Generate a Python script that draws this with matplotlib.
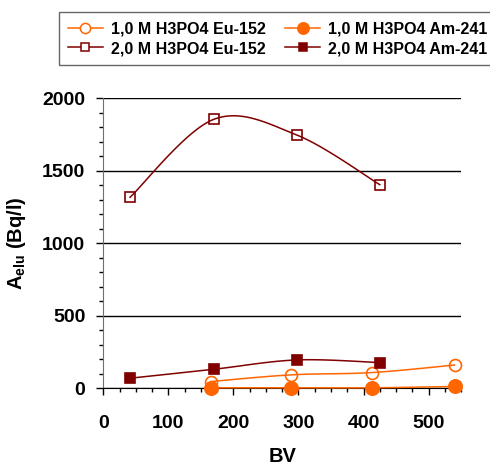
import numpy as np
import matplotlib
matplotlib.use("Agg")
import matplotlib.pyplot as plt
from matplotlib.ticker import MultipleLocator

plt.rcParams['font.family'] = ['Liberation Sans', 'DejaVu Sans']
plt.rcParams['font.weight'] = 'bold'
plt.rcParams['mathtext.fontset'] = 'custom'
plt.rcParams['mathtext.rm'] = 'Liberation Sans:bold'
plt.rcParams['mathtext.bf'] = 'Liberation Sans:bold'

# Data
x_10 = [165, 288, 413, 540]
eu_10 = [46, 92, 108, 160]
am_10 = [3, 3, 3, 12]
x_20 = [41, 170, 297, 425]
eu_20 = [1317, 1855, 1747, 1404]
am_20 = [69, 131, 195, 177]

labels = ["1,0 M H3PO4 Eu-152", "1,0 M H3PO4 Am-241",
          "2,0 M H3PO4 Eu-152", "2,0 M H3PO4 Am-241"]
orange = "#FF6600"
darkred = "#800000"


def smooth(xs, ys, n=40):
    """Excel-like smoothed line (Bezier with 1/6 tension)."""
    p = np.column_stack([xs, ys]).astype(float)
    pts = np.vstack([p[0], p, p[-1]])
    out = []
    t = np.linspace(0, 1, n)[:, None]
    for i in range(1, len(pts) - 2):
        p0, p3 = pts[i], pts[i + 1]
        c1 = p0 + (pts[i + 1] - pts[i - 1]) / 6
        c2 = p3 - (pts[i + 2] - pts[i]) / 6
        seg = ((1 - t) ** 3) * p0 + 3 * ((1 - t) ** 2) * t * c1 + 3 * (1 - t) * t ** 2 * c2 + t ** 3 * p3
        out.append(seg)
    s = np.vstack(out)
    return s[:, 0], s[:, 1]


fig = plt.figure(figsize=(4.9, 4.7), dpi=100)
ax = fig.add_axes([0.211, 0.174, 0.73, 0.617])

series = [
    (x_10, eu_10, orange, 'o', 'none', 8.6, labels[0]),
    (x_10, am_10, orange, 'o', orange, 9.6, labels[1]),
    (x_20, eu_20, darkred, 's', 'none', 7.0, labels[2]),
    (x_20, am_20, darkred, 's', darkred, 7.0, labels[3]),
]
handles = []
for xs, ys, c, m, fc, ms, lab in series:
    sx, sy = smooth(xs, ys)
    ax.plot(sx, sy, color=c, lw=1.1, zorder=3, clip_on=False)
    ax.plot(xs, ys, linestyle='none', marker=m, markersize=ms,
            markerfacecolor=fc, markeredgecolor=c, markeredgewidth=1.2,
            zorder=4, clip_on=False)
    h, = ax.plot([], [], color=c, lw=1.1, marker=m, markersize=ms * 0.85,
                 markerfacecolor=fc if fc != 'none' else 'white',
                 markeredgecolor=c, markeredgewidth=1.1)
    handles.append(h)

ax.set_xlim(0, 550)
ax.set_ylim(0, 2000)
ax.xaxis.set_major_locator(MultipleLocator(100))
ax.xaxis.set_minor_locator(MultipleLocator(25))
ax.yaxis.set_major_locator(MultipleLocator(500))
ax.yaxis.set_minor_locator(MultipleLocator(100))

for s in ['top', 'right']:
    ax.spines[s].set_visible(False)
ax.spines['left'].set_color('#707070')
ax.spines['bottom'].set_color('black')
ax.yaxis.grid(True, which='major', color='black', lw=1.0)
ax.set_axisbelow(True)

ax.tick_params(axis='both', which='major', direction='out', length=5, width=1,
               labelsize=14, pad=8)
ax.tick_params(axis='both', which='minor', direction='out', length=3, width=1)
ax.tick_params(axis='x', which='major', pad=14)
for lab in ax.get_xticklabels() + ax.get_yticklabels():
    lab.set_fontweight('bold')

ax.set_xlabel("BV", fontsize=14.5, fontweight='bold', labelpad=11)
ax.set_ylabel(r"A$_{\mathrm{elu}}$ (Bq/l)", fontsize=14.5, fontweight='bold', labelpad=10)

order = [0, 2, 1, 3]
leg = fig.legend([handles[i] for i in order], [labels[i] for i in order],
                 ncol=2, loc='upper left', bbox_to_anchor=(59 / 490, 1 - 12.5 / 470),
                 fontsize=11.5, frameon=True, fancybox=False, edgecolor='#404040',
                 handlelength=2.2, handletextpad=0.5, columnspacing=1.2,
                 borderpad=0.55, labelspacing=0.3, borderaxespad=0)
leg.get_frame().set_linewidth(1.0)
for t in leg.get_texts():
    t.set_fontweight('bold')

fig.savefig("out.png", dpi=100)
